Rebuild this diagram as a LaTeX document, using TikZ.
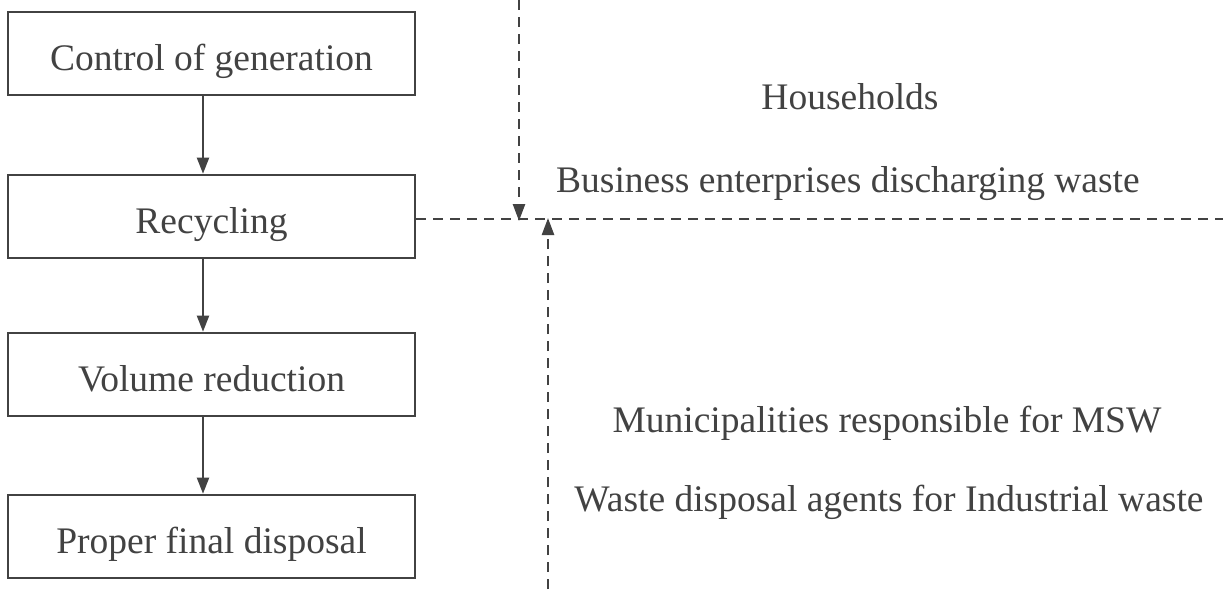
\documentclass[tikz,border=0pt]{standalone}
\usepackage{fontspec}
\setmainfont{Liberation Serif}
\usetikzlibrary{arrows.meta}
\definecolor{ink}{RGB}{66,66,66}
\begin{document}
\begin{tikzpicture}[x=1pt,y=-1pt,
  every node/.style={font=\fontsize{37.5}{40}\selectfont, text=ink},
  stagebox/.style={draw=ink, line width=2.6pt, minimum width=407pt, minimum height=83pt,
    inner sep=0pt, text height=36pt, text depth=2pt},
  flow/.style={draw=ink, line width=2pt, -{Triangle[length=16pt,width=12pt]}},
  dline/.style={draw=ink, line width=2.4pt, dash pattern=on 10pt off 7pt},
  darrow/.style={dline, -{Triangle[length=17pt,width=12pt]}},
  lbl/.style={anchor=base, inner sep=0pt}]
\useasboundingbox (0,0) rectangle (1223,589);
\fill[white] (0,0) rectangle (1223,589);

\node[stagebox] (b1) at (211.5,53.5) {Control of generation};
\node[stagebox] (b2) at (211.5,216.5) {Recycling};
\node[stagebox] (b3) at (211.5,374.5) {Volume reduction};
\node[stagebox] (b4) at (211.5,536.5) {Proper final disposal};

\draw[flow] ([xshift=-8.5pt]b1.south) -- ([xshift=-8.5pt]b2.north);
\draw[flow] ([xshift=-8.5pt]b2.south) -- ([xshift=-8.5pt]b3.north);
\draw[flow] ([xshift=-8.5pt]b3.south) -- ([xshift=-8.5pt]b4.north);

\coordinate (hl) at (1223,219);
\coordinate (topend) at (519,0);
\coordinate (downtip) at (519,221);
\coordinate (botend) at (548,589);
\coordinate (uptip) at (548,218);

\draw[dline] (b2.east |- hl) -- (hl);
\draw[darrow] (topend) -- (downtip);
\draw[darrow] (botend) -- (uptip);

\node[lbl] (hh) at (850,109) {Households};
\node[lbl] (be) at (848,192) {Business enterprises discharging waste};
\node[lbl] (mu) at (887,432) {Municipalities responsible for MSW};
\node[lbl] (wd) at (889,511) {Waste disposal agents for Industrial waste};
\end{tikzpicture}
\end{document}
